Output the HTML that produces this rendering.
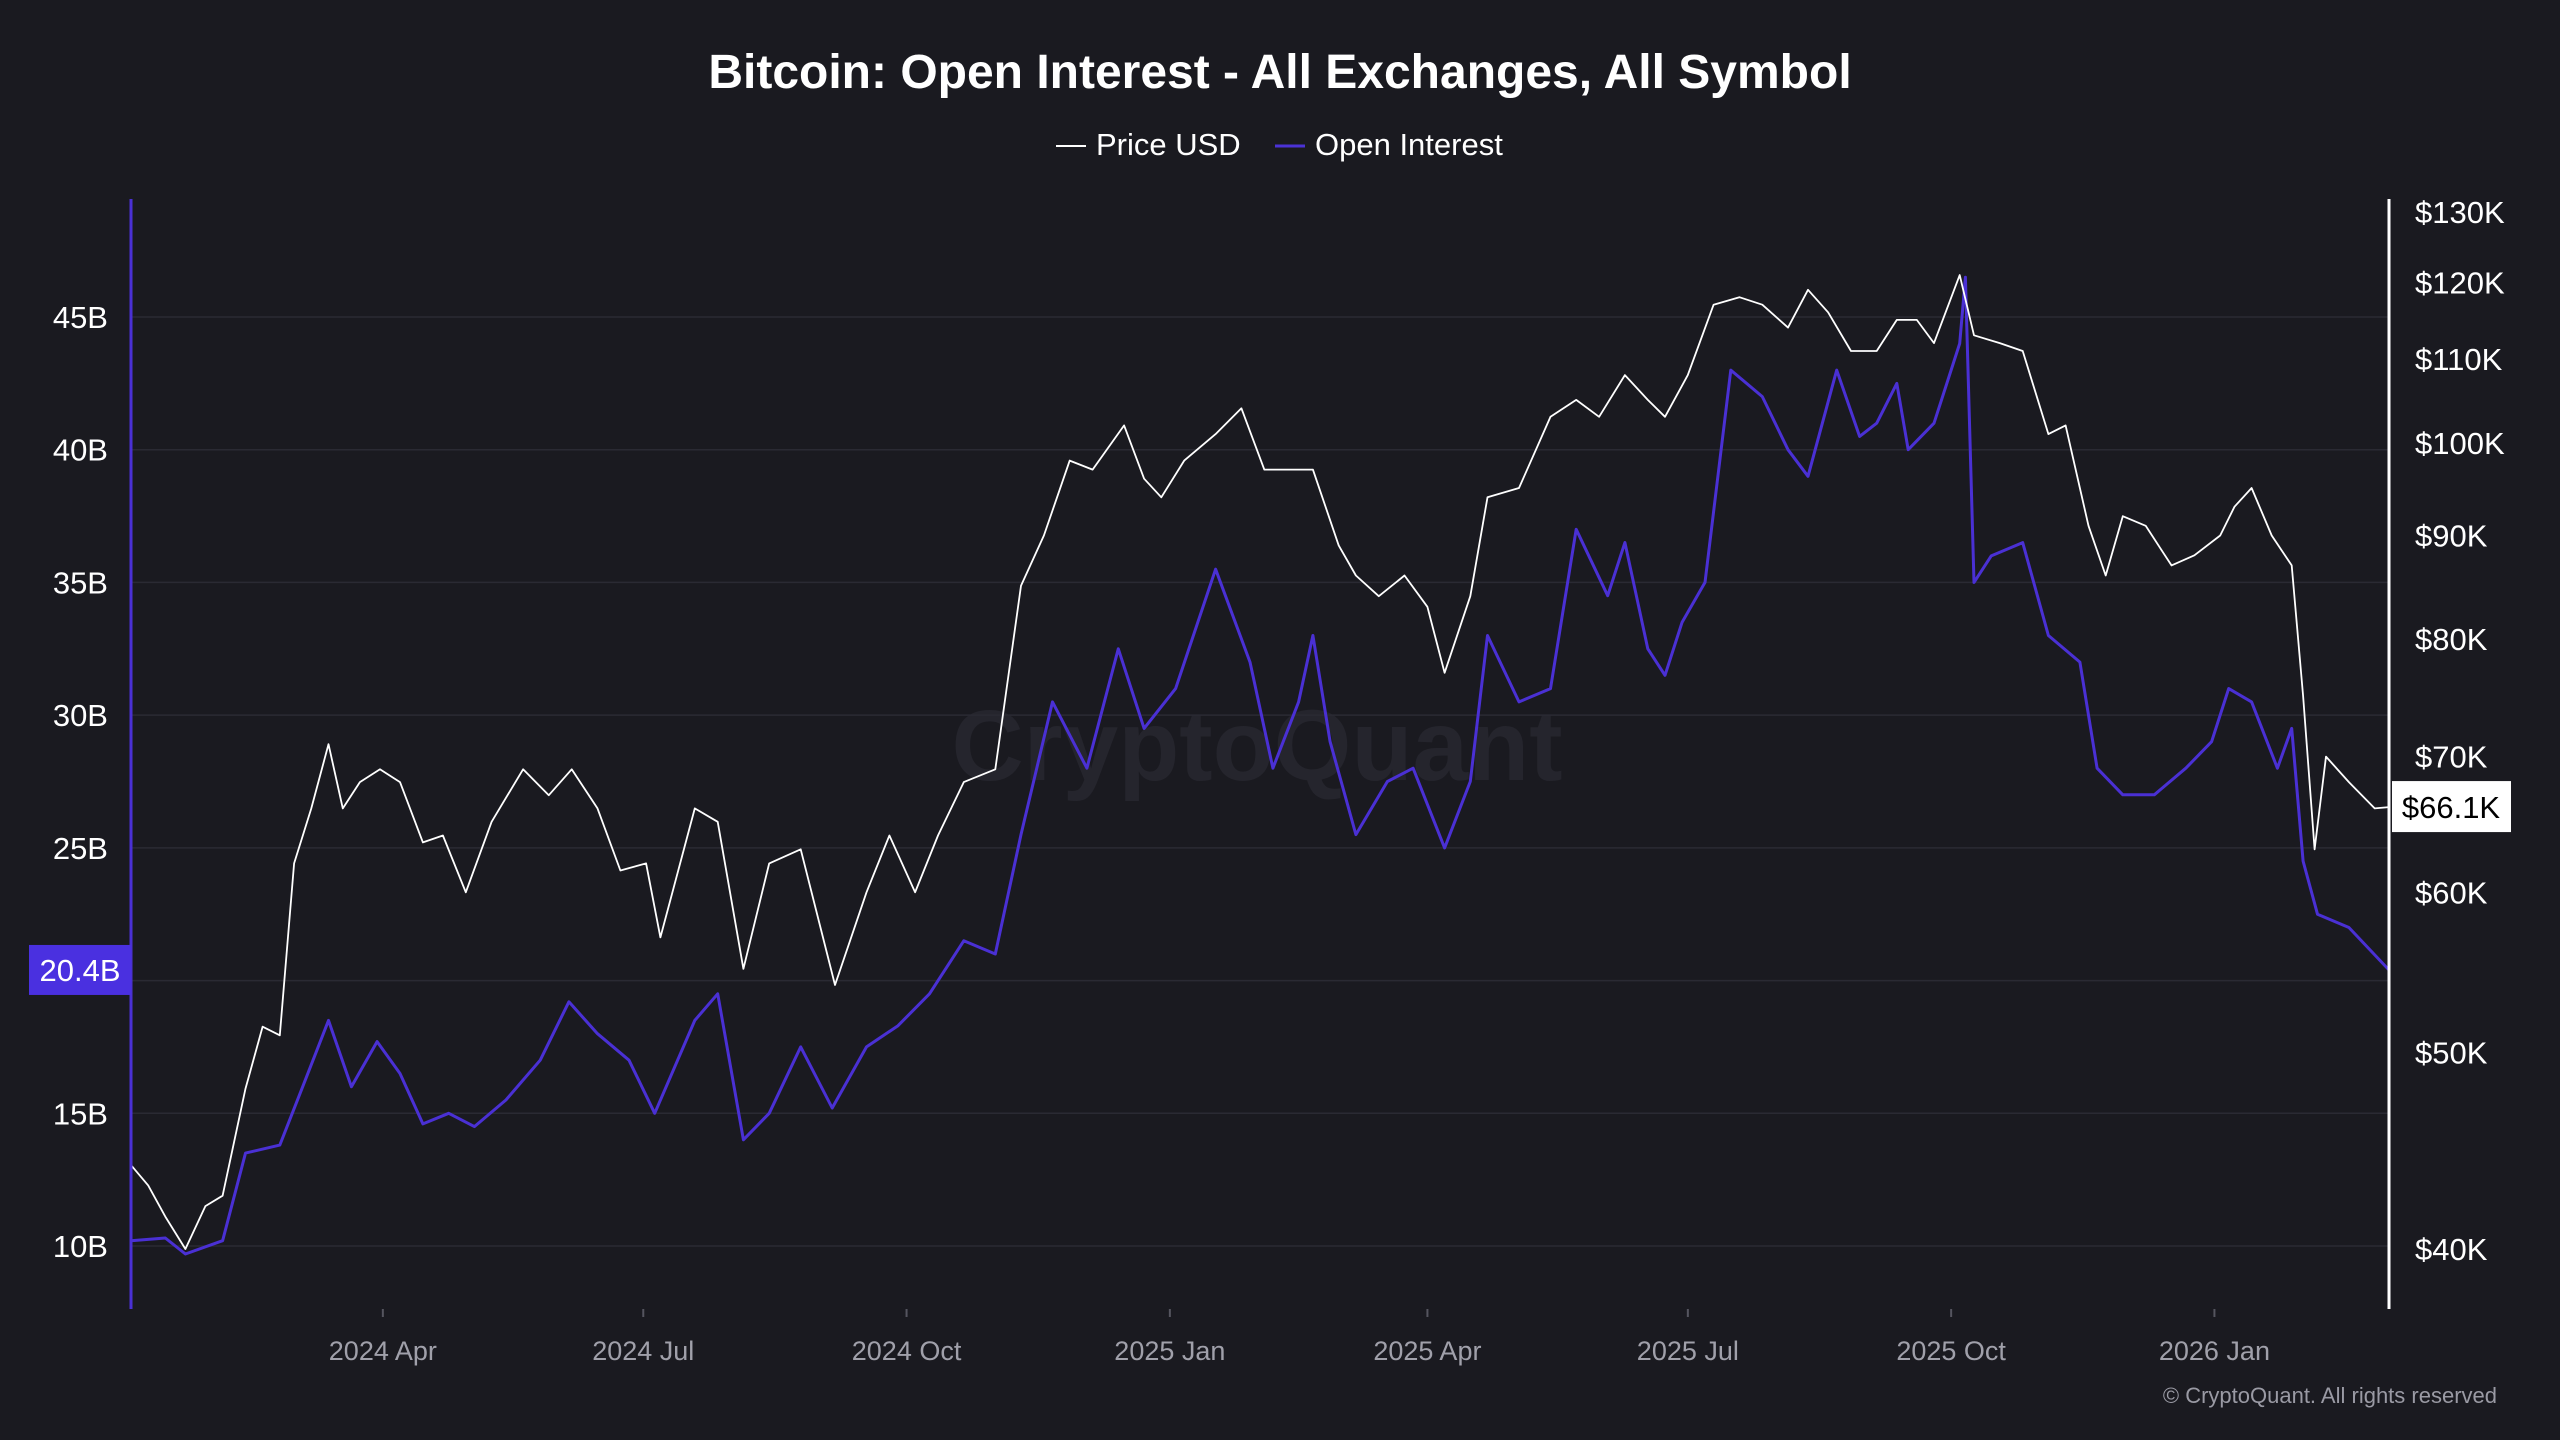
<!DOCTYPE html>
<html><head><meta charset="utf-8"><style>
html,body{margin:0;padding:0;background:#1a1a20;}
svg{display:block;font-family:"Liberation Sans",sans-serif;}
</style></head><body>
<svg id="chart" width="2560" height="1440" viewBox="0 0 2560 1440" xmlns="http://www.w3.org/2000/svg">
<rect width="2560" height="1440" fill="#1a1a20"/>
<text x="1280" y="88" text-anchor="middle" fill="#ffffff" font-size="48" font-weight="bold">Bitcoin: Open Interest - All Exchanges, All Symbol</text>
<g>
 <g><line x1="1056" y1="146" x2="1086" y2="146" stroke="#fff" stroke-width="2"/><text x="1096" y="155" fill="#fff" font-size="31">Price USD</text></g>
 <g><line x1="1275" y1="146" x2="1305" y2="146" stroke="#4b32d6" stroke-width="3"/><text x="1315" y="155" fill="#fff" font-size="31">Open Interest</text></g>
</g>
<text x="1257" y="780" text-anchor="middle" fill="#25252d" font-size="100" font-weight="bold">CryptoQuant</text>
<g id="grid"></g>
<g id="series"></g>
<g id="axes"></g>
<text x="2497" y="1403" text-anchor="end" fill="#9a9aa4" font-size="22">© CryptoQuant. All rights reserved</text>
</svg>
<script>
// days since 2024-01-01
const priceDays=[3,9,15,22,29,35,43,49,55,60,66,72,77,83,90,97,105,112,120,129,140,149,157,166,174,183,188,200,208,217,226,237,249,260,268,277,285,294,305,314,322,331,339,350,357,363,371,382,391,399,408,416,425,431,439,448,456,462,471,477,488,499,508,516,525,533,539,547,556,565,573,582,589,596,604,613,620,627,633,642,647,656,664,673,679,687,693,699,707,716,724,733,738,744,751,758,762,766,770,778,787,792];
const priceK=[44,43,41.5,40,42,42.5,48,51.5,51,62,66,71,66,68,69,68,63.5,64,60,65,69,67,69,66,61.5,62,57,66,65,55,62,63,54,60,64,60,64,68,69,85,90,98,97,102,96,94,98,101,104,97,97,97,89,86,84,86,83,77,84,94,95,103,105,103,108,105,103,108,117,118,117,114,119,116,111,111,115,115,112,121,113,112,111,101,102,91,86,92,91,87,88,90,93,95,90,87,75,63,70,68,66,66.1];
const oiDays=[3,15,22,35,43,55,63,72,80,89,97,105,114,123,134,146,156,166,177,186,200,208,217,226,237,248,260,271,282,294,305,314,325,337,348,357,368,382,394,402,411,416,422,431,442,451,462,471,477,488,499,508,519,525,533,539,545,553,562,573,582,589,599,607,613,620,624,633,642,644,647,653,664,673,684,690,699,710,721,730,736,744,753,758,762,767,778,792];
const oiB=[10.2,10.3,9.7,10.2,13.5,13.8,16,18.5,16,17.7,16.5,14.6,15,14.5,15.5,17,19.2,18,17,15,18.5,19.5,14,15,17.5,15.2,17.5,18.3,19.5,21.5,21,25.5,30.5,28,32.5,29.5,31,35.5,32,28,30.5,33,29,25.5,27.5,28,25,27.5,33,30.5,31,37,34.5,36.5,32.5,31.5,33.5,35,43,42,40,39,43,40.5,41,42.5,40,41,44,46.5,35,36,36.5,33,32,28,27,27,28,29,31,30.5,28,29.5,24.5,22.5,22,20.4];
const leftTicks=[10,15,20,25,30,35,40,45];
const rightTicks=[40,50,60,70,80,90,100,110,120,130];
const xTickLabels=["2024 Apr","2024 Jul","2024 Oct","2025 Jan","2025 Apr","2025 Jul","2025 Oct","2026 Jan"];
const xTickDays=[91,182,274,366,456,547,639,731];

const NS="http://www.w3.org/2000/svg";
const L=131,R=2389,T=199,B=1309;
function xS(d){return L+(d-3)/(792-3)*(R-L);}
function yL(v){return 1246-(v-10)*(1246-317)/35;}
function yR(v){return 1249-Math.log(v/40)/Math.log(130/40)*(1249-212);}
function mk(tag,attrs,parent){const e=document.createElementNS(NS,tag);for(const k in attrs)e.setAttribute(k,attrs[k]);parent.appendChild(e);return e;}
const grid=document.getElementById('grid'),ser=document.getElementById('series'),axes=document.getElementById('axes');
leftTicks.forEach(v=>{
 const g=mk('line',{x1:L,x2:R,y1:yL(v),y2:yL(v),stroke:'#2a2a33','stroke-width':1.5},grid);
 
 
 if(v===20)return;
 const t=mk('text',{x:108,y:yL(v)+11,'text-anchor':'end',fill:'#fff','font-size':31},axes);t.textContent=v+'B';
 
 
});
rightTicks.forEach(v=>{
 const t=mk('text',{x:2415,y:yR(v)+11,fill:'#fff','font-size':31},axes);t.textContent='$'+v+'K';
 
 
});
xTickLabels.forEach((s,i)=>{
 const x=xS(xTickDays[i]);
 const tk=mk('line',{x1:x,x2:x,y1:B,y2:B+8,stroke:'#55555f','stroke-width':2},axes);
 
 
 const t=mk('text',{x:x,y:1360,'text-anchor':'middle',fill:'#a0a0aa','font-size':27},axes);t.textContent=s;
 
 
});
const oiP=mk('path',{d:oiDays.map((d,i)=>(i?'L':'M')+xS(d).toFixed(1)+','+yL(oiB[i]).toFixed(1)).join(''),fill:'none',stroke:'#4a30d4','stroke-width':3,'stroke-linejoin':'round'},ser);


const prP=mk('path',{d:priceDays.map((d,i)=>(i?'L':'M')+xS(d).toFixed(1)+','+yR(priceK[i]).toFixed(1)).join(''),fill:'none',stroke:'#ffffff','stroke-width':1.8,'stroke-linejoin':'round'},ser);


const la=mk('line',{x1:L,x2:L,y1:T,y2:B,stroke:'#4a30d4','stroke-width':3},axes);


const ra=mk('line',{x1:R,x2:R,y1:T,y2:B,stroke:'#ffffff','stroke-width':3},axes);


const lastOi=oiB[oiB.length-1],lastP=priceK[priceK.length-1];
const ob=mk('rect',{x:29,y:yL(lastOi)-25,width:102,height:50,fill:'#4a30e0'},axes);


const ot=mk('text',{x:80,y:yL(lastOi)+11,'text-anchor':'middle',fill:'#fff','font-size':31},axes);ot.textContent=lastOi+'B';


const pb=mk('rect',{x:2392,y:yR(lastP)-26,width:119,height:51,fill:'#ffffff'},axes);


const pt=mk('text',{x:2451,y:yR(lastP)+11,'text-anchor':'middle',fill:'#000','font-size':31},axes);pt.textContent='$'+lastP+'K';


</script>
</body></html>
